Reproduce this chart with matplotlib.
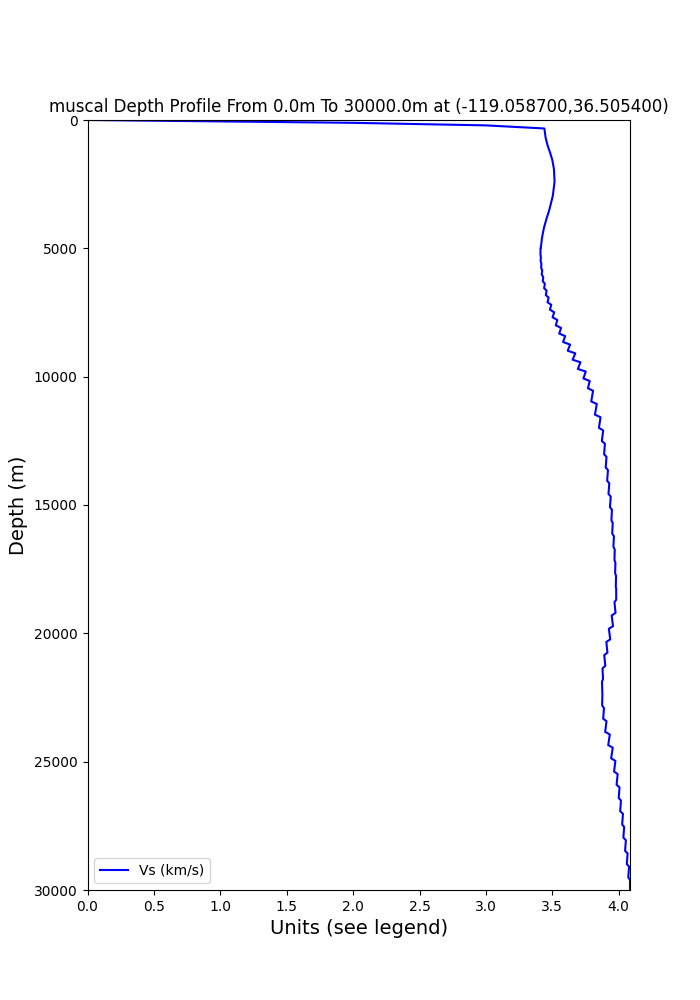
import matplotlib
matplotlib.use("Agg")
import matplotlib.pyplot as plt
import numpy as np

# smooth upper part of the profile (depth in m, Vs in km/s)
top_depth = [0, 110, 210, 330, 700, 1000, 1300, 1560, 1900, 2390, 2950, 3510,
             3850, 4200, 4600, 5000]
top_vs = [0.0, 2.0, 3.0, 3.44, 3.45, 3.465, 3.485, 3.50, 3.512, 3.517, 3.504,
          3.477, 3.456, 3.437, 3.422, 3.413]

# layered part: layer top depths, Vs at top and at bottom of each layer
layer_top = [5000, 5250, 5500, 5760, 6020, 6280, 6550, 6820, 7100, 7390,
             7690, 8000, 8320, 8650, 8990, 9340, 9700, 10070, 10450, 10965,
             11480, 11995, 12510, 13025, 13540, 14055, 14570, 15085, 15600, 16115,
             16630, 17145, 17660, 18175, 18690, 19205, 19720, 20235, 20750, 21265,
             21780, 22295, 22810, 23325, 23840, 24355, 24870, 25385, 25900, 26415,
             26930, 27445, 27960, 28475, 28990, 29505]
layer_vs_top = [3.411, 3.414, 3.418, 3.424, 3.432, 3.444, 3.457, 3.472, 3.492, 3.514,
                3.538, 3.566, 3.597, 3.634, 3.673, 3.712, 3.752, 3.782, 3.807, 3.835,
                3.863, 3.883, 3.896, 3.908, 3.919, 3.929, 3.940, 3.949, 3.955, 3.964,
                3.970, 3.975, 3.980, 3.981, 3.968, 3.947, 3.926, 3.907, 3.891, 3.878,
                3.874, 3.877, 3.889, 3.908, 3.933, 3.955, 3.975, 3.992, 4.006, 4.017,
                4.032, 4.041, 4.054, 4.067, 4.078, 4.085]
layer_vs_bot = [3.411, 3.412, 3.416, 3.420, 3.428, 3.438, 3.451, 3.464, 3.482, 3.502,
                3.526, 3.552, 3.581, 3.616, 3.653, 3.692, 3.734, 3.768, 3.793, 3.821,
                3.851, 3.873, 3.890, 3.902, 3.913, 3.923, 3.934, 3.945, 3.951, 3.960,
                3.968, 3.973, 3.978, 3.981, 3.976, 3.957, 3.936, 3.915, 3.899, 3.882,
                3.876, 3.875, 3.883, 3.898, 3.921, 3.943, 3.965, 3.984, 4.000, 4.011,
                4.026, 4.035, 4.048, 4.061, 4.072, 4.085]
bottom_depth = 30000
sample_step = 100  # profile sampling interval (m)

depth = list(top_depth)
vs = list(top_vs)
bottoms = layer_top[1:] + [bottom_depth]
for i, (t, b, v0, v1) in enumerate(zip(layer_top, bottoms, layer_vs_top, layer_vs_bot)):
    start = t if i == 0 else t + sample_step
    depth += [start, b]
    vs += [v0, v1]

fig, ax = plt.subplots(figsize=(7, 10), dpi=100)
ax.plot(vs, depth, color='blue', label='Vs (km/s)')
ax.set_ylim(bottom_depth, 0)
ax.set_xlim(0, max(vs))
ax.set_xlabel('Units (see legend)', fontsize=14)
ax.set_ylabel('Depth (m)', fontsize=14)
ax.set_title('muscal Depth Profile From 0.0m To 30000.0m at (-119.058700,36.505400)')
ax.legend(loc='lower left')
fig.savefig('out.png')
